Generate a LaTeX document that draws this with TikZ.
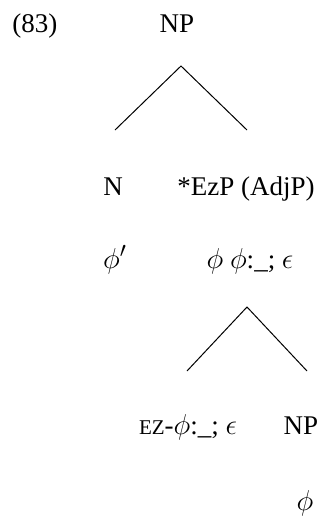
\documentclass[tikz,border=0pt]{standalone}
\usepackage{fontspec}
\setmainfont{Liberation Serif}
\usetikzlibrary{positioning}

\newcommand{\ezsc}[1]{{\fontsize{10.5}{12}\selectfont #1}}
\newcommand{\bigmath}[1]{{\fontsize{15.5}{18}\selectfont $#1$}}

\begin{document}
\begin{tikzpicture}[x=0.5pt, y=-0.5pt]
\begin{scope}[every node/.style={font=\fontsize{13.5}{16}\selectfont, inner sep=0pt, anchor=base}]

\useasboundingbox (0,0) rectangle (327,521);

\node [anchor=base west] (exno) at (12,32)  {(83)};
\node (np)    at (177,32)  {NP};

\coordinate (top1) at (181,66);
\coordinate (left1) at (115,130);
\coordinate (right1) at (247,130);
\draw [line width=0.5pt] (left1) -- (top1) -- (right1);

\node (n)     at (113,195) {N};
\node (ezp)   at (246,195) {*EzP (AdjP)};
\node (nphi)  at (115,268) {\bigmath{\phi'}};
\node (ezphi) at (250,268) {\bigmath{\phi} \bigmath{\phi}:\_; \bigmath{\epsilon}};

\coordinate (top2) at (247,307);
\coordinate (left2) at (187,371);
\coordinate (right2) at (307,371);
\draw [line width=0.5pt] (left2) -- (top2) -- (right2);

\node (ez)    at (188,434) {\ezsc{EZ}-\bigmath{\phi}:\_; \bigmath{\epsilon}};
\node (np2)   at (301,434) {NP};
\node (npphi) at (305,510) {\bigmath{\phi}};

\end{scope}
\end{tikzpicture}
\end{document}
